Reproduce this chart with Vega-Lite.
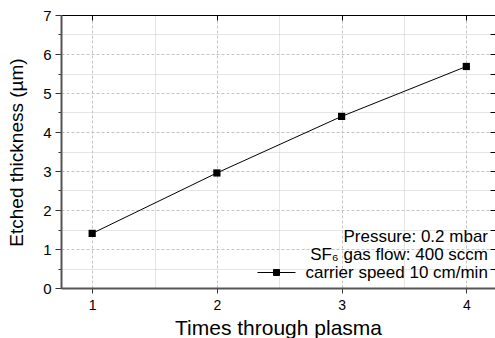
{
  "$schema": "https://vega.github.io/schema/vega-lite/v6.json",
  "width": 434,
  "height": 273,
  "autosize": {"type": "none"},
  "padding": {"left": 61, "top": 15, "right": 0, "bottom": 50},
  "background": "white",
  "config": {
    "font": "Liberation Sans",
    "view": {"stroke": null},
    "axis": {"labelFont": "Liberation Sans", "titleFont": "Liberation Sans", "labelColor": "black", "titleColor": "black", "titleFontWeight": "normal"}
  },
  "data": {
    "values": [
      {"times": 1, "thickness": 1.4, "series": "carrier speed 10 cm/min"},
      {"times": 2, "thickness": 2.95, "series": "carrier speed 10 cm/min"},
      {"times": 3, "thickness": 4.4, "series": "carrier speed 10 cm/min"},
      {"times": 4, "thickness": 5.68, "series": "carrier speed 10 cm/min"}
    ]
  },
  "resolve": {"axis": {"x": "independent", "y": "independent"}},
  "layer": [
    {
      "mark": {"type": "point", "opacity": 0},
      "encoding": {
        "x": {"field": "times", "type": "quantitative", "scale": {"domain": [0.75, 4.23], "nice": false, "zero": false},
          "axis": {"orient": "bottom", "values": [1.5, 2.5, 3.5], "title": null, "labels": false, "ticks": false, "domain": false, "grid": true, "gridColor": "#cccccc", "gridDash": [1, 1], "gridWidth": 1}},
        "y": {"field": "thickness", "type": "quantitative", "scale": {"domain": [0, 7], "nice": false, "zero": true},
          "axis": {"orient": "left", "values": [0.5, 1.5, 2.5, 3.5, 4.5, 5.5, 6.5], "title": null, "labels": false, "domain": false, "tickSize": 3, "tickColor": "#333333", "grid": true, "gridColor": "#cccccc", "gridDash": [1, 1], "gridWidth": 1}}
      }
    },
    {
      "mark": {"type": "line", "color": "black", "strokeWidth": 1},
      "encoding": {
        "x": {"field": "times", "type": "quantitative",
          "axis": {"orient": "bottom", "values": [1, 2, 3, 4], "format": "d", "title": "Times through plasma", "titleFontSize": 21, "titleY": 46, "titleBaseline": "alphabetic",
            "labelFontSize": 14, "tickSize": 5, "labelPadding": 5, "domainColor": "#555555", "domainWidth": 2, "tickColor": "#333333", "tickWidth": 1,
            "grid": true, "gridColor": "#c4c4c4", "gridDash": [3, 2], "gridWidth": 1}},
        "y": {"field": "thickness", "type": "quantitative",
          "axis": {"orient": "left", "values": [0, 1, 2, 3, 4, 5, 6, 7], "format": "d", "title": "Etched thickness (µm)", "titleFontSize": 19, "titleX": -39, "titleY": 137, "titleBaseline": "alphabetic",
            "labelFontSize": 15, "tickSize": 6, "labelPadding": 4, "domainColor": "#555555", "domainWidth": 2, "tickColor": "#333333", "tickWidth": 1,
            "grid": true, "gridColor": "#c4c4c4", "gridDash": [3, 2], "gridWidth": 1}}
      }
    },
    {
      "mark": {"type": "point", "shape": "square", "filled": true, "size": 52, "opacity": 1},
      "encoding": {
        "x": {"field": "times", "type": "quantitative",
          "axis": {"orient": "top", "values": [1, 2, 3, 4], "title": null, "labels": false, "grid": false, "tickSize": -5, "tickColor": "black", "domainColor": "black", "domainWidth": 1}},
        "y": {"field": "thickness", "type": "quantitative",
          "axis": {"orient": "right", "values": [0.5, 1, 1.5, 2, 2.5, 3, 3.5, 4, 4.5, 5, 5.5, 6, 6.5], "title": null, "labels": false, "grid": false, "tickSize": -5, "tickColor": "black", "domainColor": "black", "domainWidth": 1}},
        "color": {"field": "series", "type": "nominal", "scale": {"range": ["#000000"]},
          "legend": {
            "title": ["Pressure: 0.2 mbar", "SF₆ gas flow: 400 sccm"],
            "orient": "bottom-right", "offset": 7, "padding": 0,
            "symbolType": "M-5.43,0H5.43M-0.86,-0.86H0.86V0.86H-0.86Z",
            "symbolSize": 49, "symbolFillColor": "black", "symbolStrokeColor": "black", "symbolStrokeWidth": 1,
            "labelFont": "Liberation Sans", "labelFontSize": 17, "labelOffset": 20.5, "labelColor": "black", "labelLimit": 400,
            "titleFont": "Liberation Sans", "titleFontSize": 17, "titleFontWeight": "normal", "titleColor": "black", "titleLimit": 400,
            "titleAlign": "right", "titleAnchor": "end", "titleLineHeight": 18, "titlePadding": 0,
            "encode": {"symbols": {"update": {"stroke": {"value": "black"}, "strokeWidth": {"value": 1}, "fill": {"value": "black"}, "opacity": {"value": 1}}}}
          }}
      }
    }
  ]
}
